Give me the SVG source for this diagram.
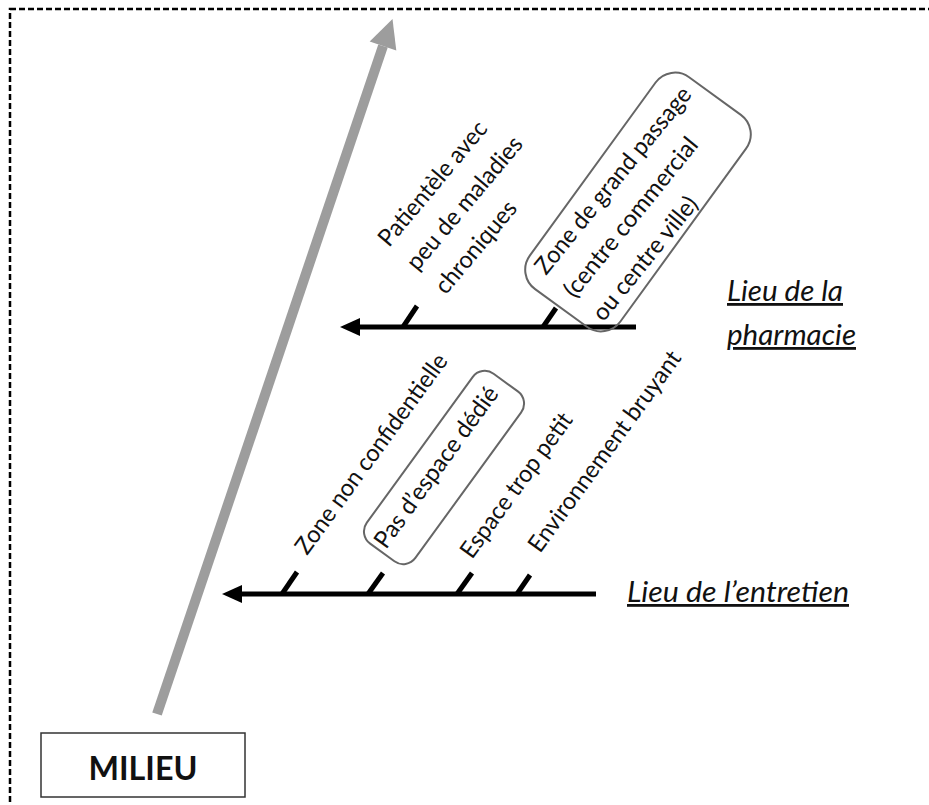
<svg xmlns="http://www.w3.org/2000/svg" width="929" height="805" viewBox="0 0 929 805">
<style>
.lbl{font-family:Lato,"Liberation Sans",sans-serif;font-size:24px;fill:#111}
.cat{font-family:Lato,"Liberation Sans",sans-serif;font-size:28px;font-style:italic;fill:#111;text-decoration:underline}
.bone{stroke:#000;stroke-width:5;fill:none}
.tick{stroke:#000;stroke-width:5;fill:none;stroke-linecap:butt}
.rbox{fill:none;stroke:#666;stroke-width:2}
</style>
<rect width="929" height="805" fill="#fff"/>
<rect id="border" x="10" y="9" width="940" height="820" fill="none" stroke="#000" stroke-width="2.5" stroke-dasharray="6 3"/>
<g id="connectors">
  <line x1="157" y1="714" x2="383" y2="46" stroke="#9d9d9d" stroke-width="10"/>
  <polygon points="392.5,19 369.7,41.5 396.3,50.5" fill="#9d9d9d"/>
  <line class="bone" x1="356" y1="327" x2="636" y2="327"/>
  <polygon points="340,327 360,318 360,336" fill="#000"/>
  <line class="tick" x1="403" y1="327" x2="417" y2="306"/>
  <line class="tick" x1="543" y1="327" x2="556" y2="308"/>
  <line class="bone" x1="238" y1="594" x2="596" y2="594"/>
  <polygon points="222,594 242,585 242,603" fill="#000"/>
  <line class="tick" x1="282" y1="594" x2="297" y2="572"/>
  <line class="tick" x1="368" y1="594" x2="383" y2="573"/>
  <line class="tick" x1="457" y1="594" x2="472" y2="573"/>
  <line class="tick" x1="517" y1="594" x2="530" y2="575"/>
</g>
<g id="milieu">
  <rect x="41" y="733" width="204" height="64" fill="#fff" stroke="#333" stroke-width="1.5"/>
  <text x="143" y="780" text-anchor="middle" font-family="Lato,'Liberation Sans',sans-serif" font-weight="bold" font-size="32" textLength="109" lengthAdjust="spacingAndGlyphs" fill="#111">MILIEU</text>
</g>
<g id="cat-pharmacie">
  <text class="cat" x="727" y="301" textLength="116" lengthAdjust="spacingAndGlyphs">Lieu de la</text>
  <text class="cat" x="727" y="345" textLength="129" lengthAdjust="spacingAndGlyphs">pharmacie</text>
</g>
<g id="cat-entretien">
  <text class="cat" x="627" y="602" textLength="222" lengthAdjust="spacingAndGlyphs">Lieu de l’entretien</text>
</g>
<g id="label-patientele" transform="translate(389,248) rotate(-50)">
  <text class="lbl" x="0" y="0" textLength="155" lengthAdjust="spacingAndGlyphs">Patientèle avec</text>
  <text class="lbl" x="0" y="37" textLength="166" lengthAdjust="spacingAndGlyphs">peu de maladies</text>
  <text class="lbl" x="0" y="74" textLength="113" lengthAdjust="spacingAndGlyphs">chroniques</text>
</g>
<g id="label-zone-passage">
  <rect class="rbox" x="-131" y="-56" width="262" height="112" rx="24" transform="translate(638,202) rotate(-54)"/>
  <g transform="translate(546,276) rotate(-51)">
    <text class="lbl" x="0" y="0" textLength="233" lengthAdjust="spacingAndGlyphs">Zone de grand passage</text>
    <text class="lbl" x="0" y="37" textLength="198" lengthAdjust="spacingAndGlyphs">(centre commercial</text>
    <text class="lbl" x="0" y="74" textLength="152" lengthAdjust="spacingAndGlyphs">ou centre ville)</text>
  </g>
</g>
<g id="label-zone-nonconf" transform="translate(307,556) rotate(-54)">
  <text class="lbl" x="0" y="0" textLength="241" lengthAdjust="spacingAndGlyphs">Zone non confidentielle</text>
</g>
<g id="label-pas-espace">
  <rect class="rbox" x="-105" y="-30" width="210" height="60" rx="15" transform="translate(444,467.5) rotate(-54)"/>
  <text class="lbl" transform="translate(386,550) rotate(-54)" x="0" y="0" textLength="193" lengthAdjust="spacingAndGlyphs">Pas d’espace dédié</text>
</g>
<g id="label-espace-petit" transform="translate(472,560) rotate(-54)">
  <text class="lbl" x="0" y="0" textLength="173" lengthAdjust="spacingAndGlyphs">Espace trop petit</text>
</g>
<g id="label-bruyant" transform="translate(540,554) rotate(-54)">
  <text class="lbl" x="0" y="0" textLength="242" lengthAdjust="spacingAndGlyphs">Environnement bruyant</text>
</g>
</svg>
